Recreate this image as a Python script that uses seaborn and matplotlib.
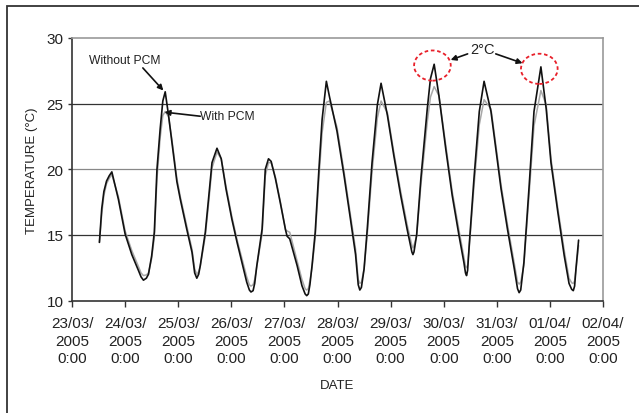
import pandas as pd
import seaborn as sns
import matplotlib.pyplot as plt
from matplotlib.patches import Ellipse, Rectangle

# ----------------------------- DATI -----------------------------

# giorni dal 23/03/2005 0:00 (una riga per ciclo giornaliero)
days = [0.516, 0.56, 0.60, 0.65, 0.70, 0.75,
        0.874, 1.0, 1.126, 1.25, 1.30, 1.345, 1.40, 1.44, 1.50, 1.55,
        1.60, 1.66, 1.71, 1.755, 1.818, 1.88, 1.975, 2.04, 2.16, 2.26, 2.31, 2.35, 2.385, 2.415, 2.51,
        2.57, 2.636, 2.73, 2.81, 2.9, 3.01, 3.11, 3.2, 3.29, 3.34, 3.37, 3.41, 3.44, 3.48, 3.58,
        3.64, 3.70, 3.75, 3.83, 3.92, 4.02, 4.05, 4.10, 4.24, 4.33, 4.39, 4.42, 4.45, 4.48, 4.52, 4.58,
        4.65, 4.71, 4.79, 4.85, 4.99, 5.12, 5.24, 5.34, 5.39, 5.42, 5.45, 5.5, 5.56,
        5.65, 5.75, 5.82, 5.94, 6.06, 6.19, 6.31, 6.40, 6.42, 6.44, 6.49,
        6.57, 6.69, 6.75, 6.82, 6.91, 7.04, 7.16, 7.29, 7.38, 7.41, 7.43, 7.45, 7.48,
        7.57, 7.67, 7.76, 7.89, 7.98, 8.08, 8.2, 8.33, 8.39, 8.42, 8.45, 8.51,
        8.61, 8.70, 8.83, 8.93, 9.02, 9.15, 9.27, 9.36, 9.41, 9.44, 9.465, 9.49, 9.54]

without_pcm = [14.43, 17.0, 18.3, 19.1, 19.5, 19.8,
               17.7, 15.07, 13.5, 12.3, 11.8, 11.55, 11.7, 12.0, 13.4, 15.2,
               20.0, 23.07, 25.2, 25.9, 24.1, 22.1, 19.05, 17.7, 15.45, 13.67, 12.1, 11.7, 12.0, 12.65, 15.2,
               17.7, 20.5, 21.6, 20.8, 18.5, 16.2, 14.4, 12.9, 11.4, 10.8, 10.65, 10.75, 11.3, 12.65, 15.45,
               20.0, 20.8, 20.6, 19.3, 17.5, 15.4, 14.9, 14.7, 12.65, 11.13, 10.5, 10.37, 10.5, 11.2, 12.65, 15.2,
               20.0, 23.8, 26.7, 25.5, 22.9, 19.6, 16.3, 13.5, 11.2, 10.8, 11.0, 12.4, 15.45,
               20.5, 24.9, 26.55, 24.1, 21.05, 18.0, 15.45, 13.7, 13.5, 13.7, 15.0,
               19.3, 24.6, 26.9, 28.0, 25.6, 21.5, 18.0, 14.9, 12.9, 12.1, 11.9, 12.3, 14.2,
               19.3, 24.4, 26.7, 24.4, 21.6, 18.5, 15.45, 12.4, 10.9, 10.6, 10.8, 12.9,
               18.8, 24.4, 27.8, 24.6, 20.5, 16.7, 13.4, 11.3, 10.85, 10.75, 11.1, 12.4, 14.6]

with_pcm = [14.43, 16.6, 18.0, 18.9, 19.3, 19.6,
            17.9, 15.3, 13.8, 12.6, 12.1, 11.9, 11.95, 12.1, 13.2, 14.8,
            19.3, 22.4, 24.1, 24.4, 24.0, 22.3, 19.3, 17.9, 15.7, 13.9, 12.4, 12.0, 12.2, 12.6, 14.9,
            17.3, 20.1, 21.3, 20.8, 18.7, 16.4, 14.6, 13.2, 11.8, 11.2, 11.1, 11.2, 11.6, 12.6, 15.1,
            19.5, 20.5, 20.5, 19.4, 17.6, 15.4, 15.3, 15.2, 13.0, 11.6, 10.9, 10.8, 10.9, 11.5, 12.5, 14.8,
            19.3, 22.8, 25.1, 25.2, 23.2, 19.9, 16.6, 13.9, 11.6, 11.3, 11.4, 12.4, 15.0,
            19.8, 23.9, 25.2, 24.3, 21.3, 18.3, 15.8, 14.2, 14.0, 14.2, 14.9,
            18.8, 23.6, 25.5, 26.3, 25.6, 21.8, 18.3, 15.3, 13.3, 12.6, 12.5, 12.7, 14.0,
            18.7, 23.4, 25.3, 24.6, 21.9, 18.8, 15.8, 12.8, 11.4, 11.25, 11.4, 12.7,
            18.2, 23.3, 26.0, 24.9, 20.8, 17.0, 13.8, 11.7, 11.35, 11.3, 11.5, 12.3, 14.2]

start_date = pd.Timestamp('2005-03-23')
tick_dates = pd.date_range('2005-03-23', '2005-04-02', freq='D')
y_ticks = [10, 15, 20, 25, 30]

# ----------------------------- GRAFICO -----------------------------

sns.set_style('white')
plt.rcParams['font.family'] = ['Liberation Sans', 'DejaVu Sans']

df = pd.DataFrame({
    'date': start_date + pd.to_timedelta(days, unit='D'),
    'With PCM': with_pcm,
    'Without PCM': without_pcm,
})

fig = plt.figure(figsize=(6.39, 4.14), dpi=100)
ax = fig.add_axes([0.1127, 0.2717, 0.8310, 0.6341])

# cornice esterna (area del grafico Excel)
fig.patches.append(Rectangle((7 / 639, -0.1), 1.2, 1 - 7 / 414 + 0.1,
                             transform=fig.transFigure, fill=False,
                             edgecolor='#333333', linewidth=1.3))

# griglia orizzontale
for yv, col in [(15, '#333333'), (20, '#888888'), (25, '#333333')]:
    ax.axhline(yv, color=col, linewidth=0.9, zorder=1)

sns.lineplot(data=df, x='date', y='With PCM', color='#a8a8a8', linewidth=1.1, ax=ax, zorder=2)
sns.lineplot(data=df, x='date', y='Without PCM', color='#111111', linewidth=1.2, ax=ax, zorder=3)
for line in ax.lines:
    line.set_solid_joinstyle('round')

ax.set_xlim(tick_dates[0], tick_dates[-1])
ax.set_ylim(10, 30)
ax.set_xticks(tick_dates)
ax.set_xticklabels([f"{d:%d/%m/}\n{d:%Y}\n{d.hour}:{d:%M}" for d in tick_dates])
ax.set_yticks(y_ticks)
ax.tick_params(axis='x', direction='out', length=4, width=1, color='#333333',
               labelsize=11, pad=7, labelcolor='#222222', bottom=True)
ax.tick_params(axis='y', direction='out', length=3, width=1, color='#333333',
               labelsize=11, pad=3, labelcolor='#222222', left=True)
for lab in ax.get_xticklabels():
    lab.set_linespacing(1.35)

ax.set_xlabel('DATE', fontsize=9.5, color='#222222', labelpad=10)
ax.set_ylabel('TEMPERATURE (°C)', fontsize=9.5, color='#222222', labelpad=6)

for side in ['left', 'bottom']:
    ax.spines[side].set_color('#333333')
    ax.spines[side].set_linewidth(1.2)
for side in ['top', 'right']:
    ax.spines[side].set_visible(True)
    ax.spines[side].set_color('#999999')
    ax.spines[side].set_linewidth(1.2)


def day(d):
    return start_date + pd.Timedelta(days=d)


# ellissi rosse tratteggiate sui picchi
for cx, cy in [(6.787, 27.9), (8.80, 27.65)]:
    ax.add_patch(Ellipse((day(cx), cy), width=0.69, height=2.3,
                         fill=False, edgecolor='#e8202a', linestyle=(0, (2, 1.5)),
                         linewidth=1.3, zorder=4, transform=ax.transData))

arrow = dict(arrowstyle='-|>', color='#111111', lw=1.2, mutation_scale=8, shrinkA=0, shrinkB=0)

ax.text(day(7.73), 29.17, '2°C', fontsize=10.5, ha='center', va='center', color='#222222')
ax.annotate('', xy=(day(7.13), 28.33), xytext=(day(7.45), 28.79), arrowprops=arrow)
ax.annotate('', xy=(day(8.485), 28.08), xytext=(day(7.98), 28.79), arrowprops=arrow)

ax.text(day(1.0), 28.35, 'Without PCM', fontsize=8.7, ha='center', va='center', color='#222222')
ax.annotate('', xy=(day(1.72), 26.0), xytext=(day(1.334), 27.72), arrowprops=arrow)

ax.text(day(2.415), 24.04, 'With PCM', fontsize=8.7, ha='left', va='center', color='#222222')
ax.annotate('', xy=(day(1.742), 24.35), xytext=(day(2.415), 24.04), arrowprops=arrow)

fig.savefig('out.png', dpi=100)
